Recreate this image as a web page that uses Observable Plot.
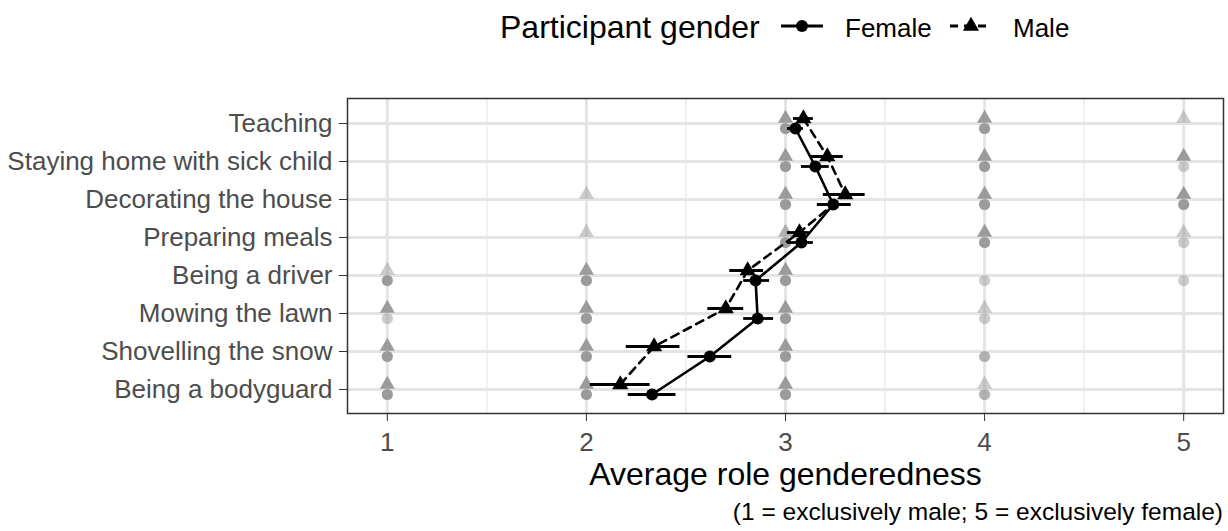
<!DOCTYPE html>
<html>
<head>
<meta charset="utf-8">
<script src="https://cdn.jsdelivr.net/npm/d3@7"></script>
<script src="https://cdn.jsdelivr.net/npm/@observablehq/plot@0.6"></script>
<style>
  html, body { margin: 0; padding: 0; background: #fff; }
  body { width: 1228px; height: 531px; overflow: hidden; font-family: "Liberation Sans", Arial, Helvetica, sans-serif; }
  #legend { position: relative; height: 60px; }
  #legend .t { position: absolute; white-space: nowrap; color: #000; }
  #legend svg { position: absolute; }
  #chart svg { display: block; }
  #caption { height: 39px; line-height: 39px; font-size: 24.5px; text-align: right; padding-right: 5px; color: #000; }
  #chart g[aria-label="y-axis tick label"] text, #chart g[aria-label="x-axis tick label"] text { fill: #4d4d4d; }
</style>
</head>
<body>
<div id="legend"></div>
<div id="chart"></div>
<div id="caption"></div>
<script>
// ---- data ----
const categories = [
  "Teaching",
  "Staying home with sick child",
  "Decorating the house",
  "Preparing meals",
  "Being a driver",
  "Mowing the lawn",
  "Shovelling the snow",
  "Being a bodyguard"
];
const ratings = [1, 2, 3, 4, 5];
const xTicks = [1, 2, 3, 4, 5];
const xMinor = [1.5, 2.5, 3.5, 4.5];

const femaleMean = [3.05, 3.15, 3.24, 3.08, 2.85, 2.86, 2.62, 2.33];
const femaleLo   = [3.01, 3.08, 3.16, 3.01, 2.79, 2.79, 2.51, 2.21];
const femaleHi   = [3.09, 3.22, 3.33, 3.14, 2.92, 2.94, 2.73, 2.45];
const maleMean   = [3.09, 3.21, 3.30, 3.07, 2.81, 2.70, 2.34, 2.17];
const maleLo     = [3.04, 3.13, 3.19, 3.01, 2.72, 2.61, 2.20, 2.02];
const maleHi     = [3.14, 3.29, 3.40, 3.12, 2.89, 2.79, 2.47, 2.32];

// estimated number of responses at each rating (1..5), per category
const femaleCounts = [
  [0, 0, 6, 6, 0],
  [0, 0, 6, 6, 1],
  [0, 0, 6, 6, 6],
  [0, 0, 6, 6, 1],
  [6, 6, 6, 1, 1],
  [1, 6, 6, 1, 0],
  [6, 6, 6, 2, 0],
  [6, 6, 6, 2, 0]
];
const maleCounts = [
  [0, 0, 6, 6, 1],
  [0, 0, 6, 6, 6],
  [0, 1, 6, 6, 6],
  [0, 1, 2, 6, 1],
  [1, 6, 6, 0, 0],
  [6, 6, 6, 1, 0],
  [6, 6, 6, 0, 0],
  [6, 6, 6, 1, 0]
];

const legendTitle = "Participant gender";
const genders = ["Female", "Male"];
const xTitle = "Average role genderedness";
const captionText = "(1 = exclusively male; 5 = exclusively female)";

// ---- tables ----
const female = categories.map((c, i) => ({cat: c, mean: femaleMean[i], lo: femaleLo[i], hi: femaleHi[i]}));
const male = categories.map((c, i) => ({cat: c, mean: maleMean[i], lo: maleLo[i], hi: maleHi[i]}));
const respF = [], respM = [];
categories.forEach((c, i) => ratings.forEach((r, j) => {
  if (femaleCounts[i][j] > 0) respF.push({cat: c, rating: r, n: femaleCounts[i][j]});
  if (maleCounts[i][j] > 0) respM.push({cat: c, rating: r, n: maleCounts[i][j]});
}));
const op = d => 1 - Math.pow(0.5, d.n);

const DF = 5, DM = -5;

const chart = Plot.plot({
  width: 1228,
  height: 432,
  marginTop: 38,
  marginBottom: 79,
  marginLeft: 347,
  marginRight: 5,
  style: {fontFamily: '"Liberation Sans", Arial, Helvetica, sans-serif', background: "#fff"},
  x: {domain: [0.8, 5.2], label: null},
  y: {domain: categories, type: "point", padding: 0.6, label: null},
  marks: [
    Plot.ruleX(xMinor, {stroke: "#efefef", strokeWidth: 1.8}),
    Plot.ruleX(xTicks, {stroke: "#e4e4e4", strokeWidth: 3}),
    Plot.ruleY(categories, {y: d => d, stroke: "#e4e4e4", strokeWidth: 3}),
    Plot.dot(respM, {x: "rating", y: "cat", dy: DM, symbol: "triangle", r: 5.6, fill: "#999", fillOpacity: op, stroke: "none"}),
    Plot.dot(respF, {x: "rating", y: "cat", dy: DF, symbol: "circle", r: 5.6, fill: "#999", fillOpacity: op, stroke: "none"}),
    Plot.line(female, {x: "mean", y: "cat", dy: DF, stroke: "#000", strokeWidth: 2.6}),
    Plot.line(male, {x: "mean", y: "cat", dy: DM, stroke: "#000", strokeWidth: 2.6, strokeDasharray: "8,6"}),
    Plot.ruleY(female, {y: "cat", x1: "lo", x2: "hi", dy: DF, stroke: "#000", strokeWidth: 2.8}),
    Plot.ruleY(male, {y: "cat", x1: "lo", x2: "hi", dy: DM, stroke: "#000", strokeWidth: 2.8}),
    Plot.dot(male, {x: "mean", y: "cat", dy: DM, symbol: "triangle", r: 6, fill: "#000", stroke: "none"}),
    Plot.dot(female, {x: "mean", y: "cat", dy: DF, symbol: "circle", r: 6, fill: "#000", stroke: "none"}),
    Plot.frame({stroke: "#333", strokeWidth: 1.5}),
    Plot.axisY({tickSize: 8, tickPadding: 7, fontSize: 26, stroke: "#333", label: null}),
    Plot.axisX({ticks: xTicks, tickFormat: d => String(d), tickSize: 8, tickPadding: 11, fontSize: 26, stroke: "#333", label: null}),
    Plot.text([xTitle], {frameAnchor: "bottom", dy: 71, fontSize: 32, fill: "#000"})
  ]
});
document.getElementById("chart").appendChild(chart);

// ---- legend ----
const legend = document.getElementById("legend");
function addText(txt, left, top, size) {
  const s = document.createElement("div");
  s.className = "t";
  s.textContent = txt;
  s.style.left = left + "px";
  s.style.top = top + "px";
  s.style.fontSize = size + "px";
  s.style.lineHeight = "1";
  legend.appendChild(s);
}
addText(legendTitle, 500, 11, 32);
function key(left, dashed, tri) {
  const svg = d3.create("svg").attr("width", 44).attr("height", 20)
    .style("left", left + "px").style("top", "16px");
  svg.append("line").attr("x1", 1).attr("x2", 43).attr("y1", 10).attr("y2", 10)
    .attr("stroke", "#000").attr("stroke-width", 2.8)
    .attr("stroke-dasharray", dashed ? "8,6" : null);
  if (tri) {
    svg.append("path").attr("transform", "translate(22,10)")
      .attr("d", d3.symbol(d3.symbolTriangle, Math.PI * 6 * 6)()).attr("fill", "#000");
  } else {
    svg.append("circle").attr("cx", 22).attr("cy", 10).attr("r", 6).attr("fill", "#000");
  }
  legend.appendChild(svg.node());
}
key(780, false, false);
addText(genders[0], 845, 15, 26);
key(949, true, true);
addText(genders[1], 1013, 15, 26);

document.getElementById("caption").textContent = captionText;
</script>
</body>
</html>
